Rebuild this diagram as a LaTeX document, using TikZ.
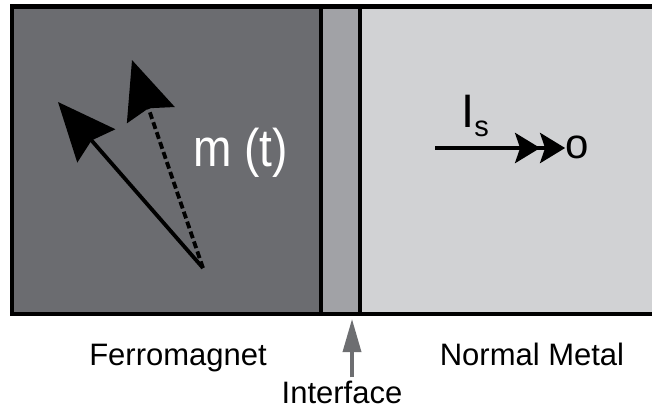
\documentclass[tikz,border=0pt]{standalone}
\usepackage{fontspec}
\setmainfont{Liberation Sans}
\usetikzlibrary{arrows.meta}
\definecolor{fmgray}{RGB}{107,108,112}
\definecolor{ifgray}{RGB}{161,162,166}
\definecolor{nmgray}{RGB}{209,210,212}
\definecolor{tickgray}{RGB}{109,110,113}
\begin{document}
\begin{tikzpicture}[x=1pt,y=-1pt,
  wall/.style={line width=4.7pt},
  txt/.style={font=\fontsize{31}{36}\selectfont,inner sep=0pt,anchor=base},
  moment/.style={line width=3.8pt,-{Stealth[length=58pt,width=50pt,inset=7pt]}},
  current/.style={line width=4.5pt,
    -{Stealth[length=25pt,width=30pt,inset=5pt]Stealth[length=25pt,width=30pt,inset=5pt]}},
  tick/.style={tickgray,line width=3.5pt,-{Triangle[length=33pt,width=18pt]}}]
\clip (0,0) rectangle (652,410);
% layers
\fill[fmgray] (12,6.5) rectangle (321,314);
\fill[ifgray] (321,6.5) rectangle (360,314);
\fill[nmgray] (360,6.5) rectangle (660,314);
\draw[wall] (660,6.5) -- (12,6.5) -- (12,314) -- (660,314);
\draw[wall] (321,6.5) -- (321,314);
\draw[wall] (360,6.5) -- (360,314);
% magnetisation
\coordinate (pivot) at (203,268);
\coordinate (mnow) at (58,102);
\coordinate (mnext) at (132,60);
\draw[moment] (pivot) -- (mnow);
\draw[moment,dash pattern=on 7pt off 3.5pt] (pivot) -- (mnext);
\node[font=\fontsize{53}{56}\selectfont,text=white,inner sep=0pt,anchor=base west,
  xscale=0.87,transform shape] (mt) at (193,166) {m (t)};
% spin current
\node[inner sep=0pt,anchor=base west,font=\fontsize{47}{50}\selectfont] (is) at (461,127)
  {I\raisebox{-9pt}{\fontsize{29}{30}\selectfont s}};
\node[inner sep=0pt,anchor=base,font=\fontsize{42}{46}\selectfont] (o) at (577,158) {o};
\coordinate (istail) at (435,148);
\draw[current] (istail) -- (o.west |- istail);
% labels
\node[txt] (fm) at (178,365) {Ferromagnet};
\node[txt] (nm) at (532,365) {Normal Metal};
\node[txt] (itf) at (342,403) {Interface};
\coordinate (ifbot) at (352,319);
\draw[tick,shorten <=3pt] (itf.north -| ifbot) -- (ifbot);
\end{tikzpicture}
\end{document}
